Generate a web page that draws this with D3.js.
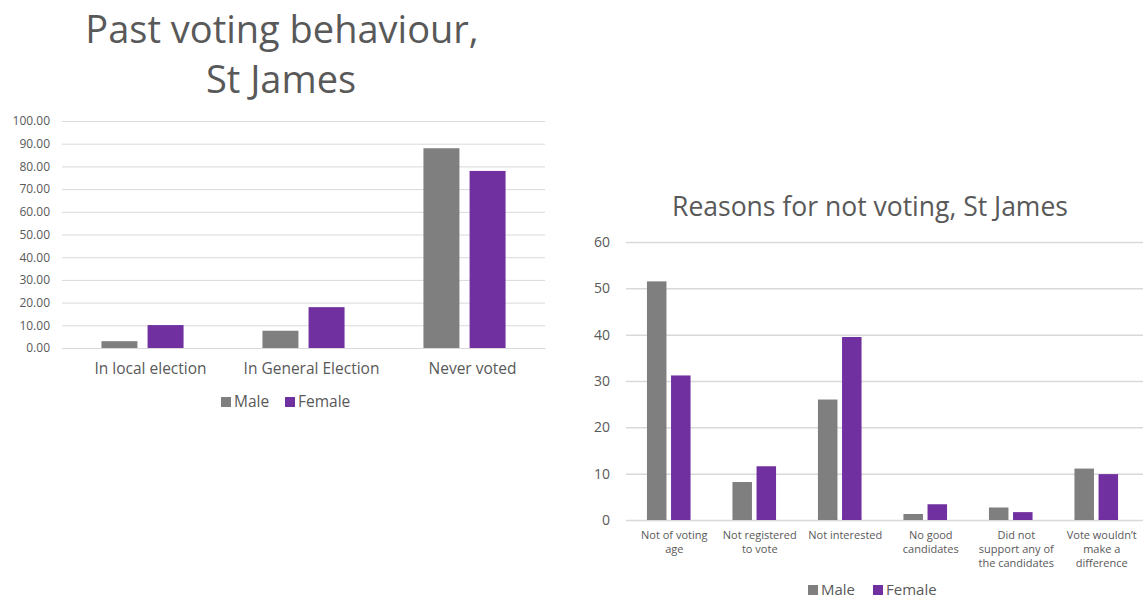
<!DOCTYPE html>
<html>
<head>
<meta charset="utf-8">
<script src="https://cdn.jsdelivr.net/npm/d3@7"></script>
<style>
  body { margin: 0; background: #fff; }
  svg text { font-family: "Open Sans", Lato, sans-serif; fill: #595959; }
</style>
</head>
<body>
<svg id="chart" width="1143" height="600"></svg>
<script>
// left chart: past voting behaviour
var pastCategories = ["In local election", "In General Election", "Never voted"];
var pastMale = [3.0, 7.6, 88.0];
var pastFemale = [10.1, 18.0, 78.0];
var pastTicks = [0, 10, 20, 30, 40, 50, 60, 70, 80, 90, 100];

// right chart: reasons for not voting
var reasonCategories = ["Not of voting age", "Not registered to vote", "Not interested",
  "No good candidates", "Did not support any of the candidates", "Vote wouldn't make a difference"];
var reasonLabels = [["Not of voting", "age"], ["Not registered", "to vote"], ["Not interested"],
  ["No good", "candidates"], ["Did not", "support any of", "the candidates"], ["Vote wouldn\u2019t", "make a", "difference"]];
var reasonMale = [51.5, 8.2, 26.0, 1.3, 2.7, 11.1];
var reasonFemale = [31.2, 11.6, 39.5, 3.4, 1.7, 9.9];
var reasonTicks = [0, 10, 20, 30, 40, 50, 60];

var seriesNames = ["Male", "Female"];
var color = d3.scaleOrdinal().domain(seriesNames).range(["#7f7f7f", "#7030a0"]);

var svg = d3.select("#chart");

function rows(cats, male, female) {
  return cats.map(function(c, i) { return {cat: c, Male: male[i], Female: female[i]}; });
}

// ---------- left chart ----------
var g1 = svg.append("g");
var x0 = d3.scaleBand().domain(pastCategories).range([62, 545]).paddingInner(0.49).paddingOuter(0.245);
var x1 = d3.scaleBand().domain(seriesNames).range([0, x0.bandwidth()]).paddingInner(0.22);
var y = d3.scaleLinear().domain([0, 100]).range([348, 121]);

g1.append("g")
    .attr("class", "grid")
    .attr("transform", "translate(62,0)")
    .call(d3.axisLeft(y).tickValues(pastTicks).tickSize(-483).tickFormat(""))
    .call(function(a) { a.select(".domain").remove(); })
    .selectAll("line").attr("stroke", "#d9d9d9");

g1.append("g")
    .attr("transform", "translate(50,0)")
    .call(d3.axisLeft(y).tickValues(pastTicks).tickSize(0).tickFormat(d3.format(".2f")))
    .call(function(a) { a.select(".domain").remove(); })
    .selectAll("text").attr("font-size", 12).attr("x", 0);

g1.selectAll(".grp")
    .data(rows(pastCategories, pastMale, pastFemale))
  .enter().append("g")
    .attr("transform", function(d) { return "translate(" + x0(d.cat) + ",0)"; })
  .selectAll("rect")
    .data(function(d) { return seriesNames.map(function(s) { return {s: s, v: d[s]}; }); })
  .enter().append("rect")
    .attr("x", function(d) { return x1(d.s); })
    .attr("width", x1.bandwidth())
    .attr("y", function(d) { return y(d.v); })
    .attr("height", function(d) { return y(0) - y(d.v); })
    .attr("fill", function(d) { return color(d.s); });

g1.append("g")
    .attr("transform", "translate(0,348)")
    .call(d3.axisBottom(x0).tickSize(0).tickPadding(0))
    .call(function(a) { a.select(".domain").attr("stroke", "#d9d9d9"); })
    .selectAll("text").attr("font-size", 15.5).attr("dy", 0).attr("y", 26).attr("x", 8);

var t1 = g1.append("text").attr("text-anchor", "middle").attr("font-size", 38);
t1.append("tspan").attr("x", 282).attr("y", 43).text("Past voting behaviour,");
t1.append("tspan").attr("x", 281).attr("y", 93).text("St James");

function legend(g, x, yPos, size) {
  var item = g.append("g").selectAll("g").data(seriesNames).enter().append("g")
      .attr("transform", function(d, i) { return "translate(" + x[i] + "," + yPos + ")"; });
  item.append("rect").attr("x", 0).attr("y", -5).attr("width", 10).attr("height", 10)
      .attr("fill", function(d) { return color(d); });
  item.append("text").attr("x", 13).attr("dy", "0.35em").attr("font-size", size).text(function(d) { return d; });
}
legend(g1, [221, 285], 402, 15.5);

// ---------- right chart ----------
var g2 = svg.append("g");
var r0 = d3.scaleBand().domain(reasonCategories).range([626, 1139]).paddingInner(0.49).paddingOuter(0.245);
var r1 = d3.scaleBand().domain(seriesNames).range([0, r0.bandwidth()]).paddingInner(0.19);
var ry = d3.scaleLinear().domain([0, 60]).range([520, 242]);

g2.append("g")
    .attr("transform", "translate(626,0)")
    .call(d3.axisLeft(ry).tickValues(reasonTicks).tickSize(-520).tickFormat(""))
    .call(function(a) { a.select(".domain").remove(); })
    .selectAll("line").attr("stroke", "#d9d9d9").attr("stroke-width", 1.5);

g2.append("g")
    .attr("transform", "translate(610,0)")
    .call(d3.axisLeft(ry).tickValues(reasonTicks).tickSize(0).tickFormat(d3.format("d")))
    .call(function(a) { a.select(".domain").remove(); })
    .selectAll("text").attr("font-size", 14).attr("x", 0);

g2.selectAll(".grp")
    .data(rows(reasonCategories, reasonMale, reasonFemale))
  .enter().append("g")
    .attr("transform", function(d) { return "translate(" + r0(d.cat) + ",0)"; })
  .selectAll("rect")
    .data(function(d) { return seriesNames.map(function(s) { return {s: s, v: d[s]}; }); })
  .enter().append("rect")
    .attr("x", function(d) { return r1(d.s); })
    .attr("width", r1.bandwidth())
    .attr("y", function(d) { return ry(d.v); })
    .attr("height", function(d) { return ry(0) - ry(d.v); })
    .attr("fill", function(d) { return color(d.s); });

var xa = g2.append("g")
    .attr("transform", "translate(0,520)")
    .call(d3.axisBottom(r0).tickSize(0).tickFormat(""))
    .call(function(a) { a.select(".domain").attr("stroke", "#d9d9d9"); });
xa.selectAll(".tick").each(function(d, i) {
  var t = d3.select(this).append("text").attr("text-anchor", "middle").attr("font-size", 11);
  reasonLabels[i].forEach(function(line, j) {
    t.append("tspan").attr("x", 5.5).attr("y", 19 + j * 14).text(line);
  });
});

g2.append("text").attr("x", 870).attr("y", 216).attr("text-anchor", "middle")
    .attr("font-size", 26.5).text("Reasons for not voting, St James");

legend(g2, [808, 873], 590, 15);
</script>
</body>
</html>
